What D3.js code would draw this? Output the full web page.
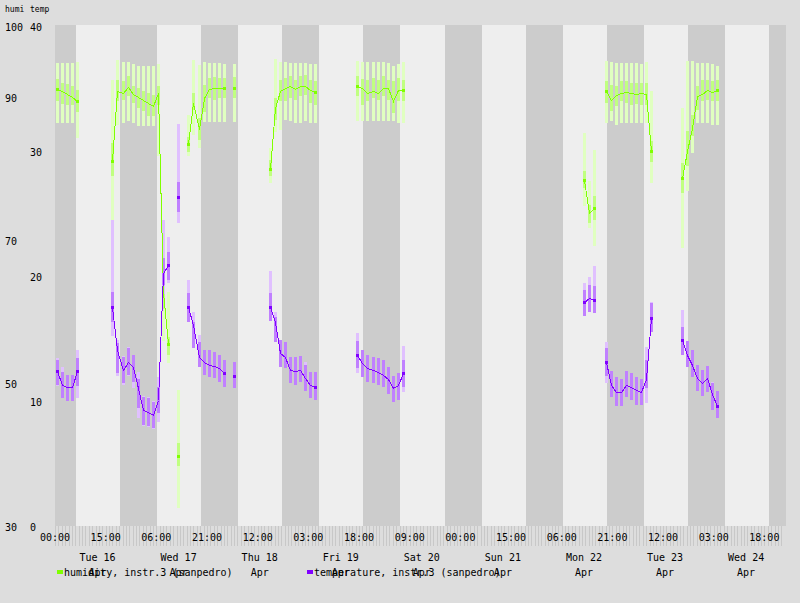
<!DOCTYPE html>
<html>
<head>
<meta charset="utf-8">
<script src="https://cdn.jsdelivr.net/npm/d3@7.9.0/dist/d3.min.js"></script>
<style>
  html, body { margin: 0; padding: 0; background: #dddddd; }
  svg { display: block; font-family: "DejaVu Sans Mono", monospace; }
</style>
</head>
<body>
<svg id="chart" width="800" height="603"></svg>
<script>
// sample times (1.5h bins), shared by both series
const times = [
  '2024-04-16 00:30', '2024-04-16 02:00', '2024-04-16 03:30', '2024-04-16 05:00', '2024-04-16 06:30',
  '2024-04-16 17:00', '2024-04-16 18:30', '2024-04-16 20:00', '2024-04-16 21:30', '2024-04-16 23:00',
  '2024-04-17 00:30', '2024-04-17 02:00', '2024-04-17 03:30', '2024-04-17 05:00', '2024-04-17 06:30',
  '2024-04-17 08:00', '2024-04-17 09:30',
  '2024-04-17 12:30',
  '2024-04-17 15:30', '2024-04-17 17:00', '2024-04-17 18:30', '2024-04-17 20:00', '2024-04-17 21:30',
  '2024-04-17 23:00', '2024-04-18 00:30', '2024-04-18 02:00',
  '2024-04-18 05:00',
  '2024-04-18 15:30', '2024-04-18 17:00', '2024-04-18 18:30', '2024-04-18 20:00', '2024-04-18 21:30',
  '2024-04-18 23:00', '2024-04-19 00:30', '2024-04-19 02:00', '2024-04-19 03:30', '2024-04-19 05:00',
  '2024-04-19 17:30', '2024-04-19 19:00', '2024-04-19 20:30', '2024-04-19 22:00', '2024-04-19 23:30',
  '2024-04-20 01:00', '2024-04-20 02:30', '2024-04-20 04:00', '2024-04-20 05:30', '2024-04-20 07:00',
  '2024-04-22 12:40', '2024-04-22 14:10', '2024-04-22 15:40',
  '2024-04-22 19:00', '2024-04-22 20:30', '2024-04-22 22:00', '2024-04-22 23:30', '2024-04-23 01:00',
  '2024-04-23 02:30', '2024-04-23 04:00', '2024-04-23 05:30', '2024-04-23 07:00', '2024-04-23 08:30',
  '2024-04-23 17:30', '2024-04-23 19:00', '2024-04-23 20:30', '2024-04-23 22:00', '2024-04-23 23:30',
  '2024-04-24 01:00', '2024-04-24 02:30', '2024-04-24 04:00'
];

// humidity: mean, inner band (lo/hi), outer band (min/max)
const humiMean = [
  91.3, 91.0, 90.6, 90.2, 89.6,
  81.3, 91.0, 90.7, 91.6, 90.6, 90.2, 89.8, 89.3, 89.0, 90.7, 62.9, 55.6,
  40.0,
  83.6, 89.3, 85.7, 90.0, 91.3, 91.4, 91.4, 91.5,
  91.4,
  80.1, 88.6, 91.0, 91.4, 91.7, 91.3, 91.7, 91.8, 91.2, 90.9,
  91.7, 91.5, 90.7, 91.0, 90.7, 91.4, 91.4, 89.6, 91.2, 91.2,
  78.6, 73.9, 74.6,
  91.0, 89.8, 90.5, 90.8, 90.9, 90.7, 90.6, 90.7, 90.6, 82.7,
  78.8, 82.6, 85.8, 90.3, 90.6, 91.2, 90.9, 91.2
];
const humiLo = [
  89.6, 89.2, 89.1, 89.1, 88.1,
  79.1, 89.6, 89.8, 90.3, 89.3, 88.6, 88.2, 87.6, 87.5, 89.1, 60.5, 54.1,
  38.5,
  82.5, 88.4, 84.2, 88.1, 90.0, 89.8, 90.0, 90.0,
  90.0,
  79.1, 87.0, 89.6, 89.6, 90.0, 89.8, 90.3, 90.5, 89.3, 89.1,
  90.3, 89.1, 89.6, 90.0, 89.8, 90.3, 89.8, 87.9, 89.6, 89.6,
  77.4, 72.5, 73.0,
  89.3, 88.2, 88.9, 89.6, 89.3, 89.1, 89.2, 89.1, 89.1, 81.1,
  76.7, 80.5, 84.7, 88.4, 89.6, 89.8, 89.6, 89.6
];
const humiHi = [
  92.7, 92.2, 92.0, 91.7, 91.2,
  83.7, 92.6, 92.4, 93.2, 91.7, 91.4, 91.0, 90.7, 90.5, 91.7, 65.5, 56.6,
  41.7,
  84.6, 90.8, 87.2, 91.9, 92.8, 93.0, 92.9, 92.8,
  93.0,
  81.4, 90.0, 92.6, 92.8, 93.1, 92.6, 93.1, 93.3, 92.6, 92.4,
  93.2, 92.7, 92.6, 92.8, 92.6, 93.1, 92.6, 92.4, 92.8, 92.6,
  79.8, 75.1, 76.3,
  92.5, 91.9, 91.8, 92.5, 92.5, 92.1, 92.2, 92.1, 92.1, 84.0,
  80.9, 85.4, 87.7, 91.7, 92.6, 92.6, 92.4, 92.6
];
const humiMin = [
  86.5, 86.5, 86.5, 86.5, 84.5,
  73.0, 86.3, 86.5, 86.8, 86.5, 86.2, 86.2, 86.2, 86.2, 82.0, 56.0, 52.9,
  32.6,
  81.9, 84.9, 83.0, 86.7, 86.7, 86.7, 86.7, 86.7,
  86.7,
  78.1, 85.3, 85.6, 87.0, 86.8, 86.5, 86.5, 86.8, 86.5, 86.5,
  86.8, 86.8, 86.9, 86.9, 86.9, 86.8, 86.8, 86.8, 86.5, 86.6,
  74.9, 71.8, 69.3,
  86.5, 86.8, 86.3, 86.5, 86.5, 86.5, 86.5, 86.5, 86.5, 78.1,
  69.0, 77.0, 82.3, 86.5, 86.5, 86.5, 86.3, 86.3
];
const humiMax = [
  95.0, 95.0, 95.0, 95.0, 95.1,
  92.6, 95.4, 95.1, 95.1, 94.8, 94.6, 94.5, 94.5, 94.5, 94.8, 70.0, 62.9,
  49.2,
  87.7, 95.4, 94.7, 95.1, 94.9, 94.9, 94.9, 94.8,
  94.8,
  83.0, 95.5, 95.1, 95.1, 94.9, 94.9, 94.9, 94.9, 94.8, 94.8,
  95.2, 95.1, 95.1, 95.1, 95.1, 95.1, 94.9, 94.5, 94.8, 95.1,
  85.1, 78.4, 82.8,
  95.2, 95.1, 94.9, 94.9, 94.9, 94.9, 94.9, 94.8, 95.1, 91.0,
  88.6, 95.2, 95.2, 94.9, 94.9, 94.9, 94.8, 94.5
];

// temperature: mean, inner band (lo/hi), outer band (min/max)
const tempMean = [
  12.5, 11.4, 11.2, 11.2, 12.5,
  17.6, 14.2, 12.6, 13.2, 12.8, 11.1, 9.4, 9.2, 9.0, 10.2, 20.3, 21.0,
  26.4,
  17.6, 16.2, 13.6, 13.2, 13.0, 12.9, 12.7, 12.3,
  12.1,
  17.6, 16.4, 13.9, 13.6, 12.6, 12.5, 12.6, 11.9, 11.4, 11.2,
  13.8, 13.1, 12.7, 12.6, 12.4, 12.2, 11.8, 11.1, 11.4, 12.3,
  18.0, 18.3, 18.2,
  13.2, 11.4, 10.8, 10.8, 11.4, 11.2, 11.0, 10.8, 11.8, 16.7,
  15.0, 13.8, 13.0, 11.9, 11.5, 11.9, 10.6, 9.7
];
const tempLo = [
  11.4, 10.3, 10.1, 10.1, 11.3,
  16.4, 12.3, 11.5, 12.2, 11.6, 9.5, 8.2, 8.1, 7.9, 9.1, 19.4, 19.8,
  25.2,
  16.4, 14.3, 12.8, 12.2, 12.0, 11.9, 11.6, 11.2,
  11.1,
  16.5, 14.8, 12.8, 12.7, 11.5, 11.4, 11.6, 10.9, 10.3, 10.2,
  12.7, 12.0, 11.6, 11.5, 11.4, 11.2, 10.6, 10.0, 10.2, 11.2,
  16.9, 17.2, 17.1,
  12.1, 10.4, 9.7, 9.7, 10.4, 10.2, 9.8, 9.8, 11.1, 15.6,
  13.8, 12.8, 12.0, 10.9, 10.5, 10.8, 9.4, 8.7
];
const tempHi = [
  13.4, 12.4, 12.2, 12.2, 13.5,
  18.8, 14.7, 13.6, 14.3, 13.8, 11.8, 10.4, 10.3, 10.0, 11.2, 21.5, 22.0,
  27.6,
  18.7, 16.4, 14.8, 14.2, 14.2, 14.0, 13.8, 13.4,
  13.2,
  18.7, 16.8, 15.0, 14.8, 13.6, 13.6, 13.7, 13.0, 12.4, 12.4,
  14.9, 14.2, 13.8, 13.6, 13.5, 13.4, 12.8, 12.1, 12.3, 13.4,
  19.0, 19.4, 19.3,
  14.3, 12.5, 12.0, 11.8, 12.5, 12.3, 12.0, 11.8, 13.4, 17.9,
  16.0, 14.9, 14.2, 13.0, 12.6, 12.9, 11.5, 10.9
];
const tempMin = [
  11.3, 10.3, 10.1, 10.1, 10.3,
  15.3, 12.1, 11.4, 12.1, 11.1, 8.7, 8.1, 8.0, 7.8, 8.4, 18.6, 19.5,
  24.3,
  16.4, 14.3, 12.8, 12.2, 12.0, 11.9, 11.6, 11.2,
  11.1,
  16.5, 14.8, 12.8, 12.7, 11.5, 11.4, 11.6, 10.9, 10.3, 10.2,
  12.3, 12.0, 11.6, 11.5, 11.4, 11.2, 10.6, 10.0, 10.2, 10.8,
  16.9, 17.2, 17.1,
  11.5, 10.4, 9.7, 9.7, 10.4, 10.2, 9.8, 9.8, 9.9, 15.6,
  13.8, 12.8, 12.0, 10.9, 10.5, 10.8, 9.4, 8.7
];
const tempMax = [
  13.5, 12.8, 12.2, 12.2, 14.2,
  24.6, 15.0, 13.7, 14.4, 13.8, 12.4, 10.5, 10.4, 10.1, 12.0, 24.6, 23.2,
  32.2,
  19.8, 17.2, 15.4, 14.2, 14.2, 14.0, 13.8, 13.4,
  13.2,
  20.5, 17.2, 15.0, 14.8, 13.6, 13.6, 13.7, 13.2, 12.4, 12.4,
  15.5, 14.2, 13.8, 13.6, 13.5, 13.4, 12.8, 12.1, 12.3, 14.5,
  19.5, 20.0, 20.9,
  14.8, 12.5, 12.0, 11.8, 12.5, 12.3, 12.0, 11.8, 14.4, 18.0,
  17.4, 14.9, 14.2, 13.0, 12.6, 12.9, 11.6, 10.9
];

const humiTicks = [100, 90, 70, 50, 30];
const tempTicks = [40, 30, 20, 10, 0];
const timeTicks = [
  '2024-04-16 00:00', '2024-04-16 15:00', '2024-04-17 06:00', '2024-04-17 21:00', '2024-04-18 12:00',
  '2024-04-19 03:00', '2024-04-19 18:00', '2024-04-20 09:00', '2024-04-21 00:00', '2024-04-21 15:00',
  '2024-04-22 06:00', '2024-04-22 21:00', '2024-04-23 12:00', '2024-04-24 03:00', '2024-04-24 18:00'
];
const dayTicks = [
  '2024-04-16 12:00', '2024-04-17 12:00', '2024-04-18 12:00', '2024-04-19 12:00', '2024-04-20 12:00',
  '2024-04-21 12:00', '2024-04-22 12:00', '2024-04-23 12:00', '2024-04-24 12:00'
];
const sunset = '19:19';
const sunrise = '06:16';
const seriesNames = ['humidity, instr.3 (sanpedro)', 'temperature, instr.3 (sanpedro)'];

const parseTime = d3.timeParse('%Y-%m-%d %H:%M');
const start = parseTime('2024-04-16 00:00');
const end = parseTime('2024-04-25 00:24');

const svg = d3.select('#chart');
const x = d3.scaleTime().domain([start, end]).range([55, 786]);
const yHumi = d3.scaleLinear().domain([30, 100]).range([527, 27]);
const yTemp = d3.scaleLinear().domain([0, 40]).range([527, 27]);
const plotTop = 25, plotBottom = 526;

// day / night shading
svg.append('rect')
  .attr('x', x(start)).attr('y', plotTop)
  .attr('width', x(end) - x(start)).attr('height', plotBottom - plotTop)
  .attr('fill', '#eeeeee');

let nights = d3.timeDays(d3.timeDay.offset(start, -1), end).map((day) => {
  let fmt = d3.timeFormat('%Y-%m-%d ');
  let s = parseTime(fmt(day) + sunset);
  let e = parseTime(fmt(d3.timeDay.offset(day, 1)) + sunrise);
  return [s < start ? start : s, e > end ? end : e];
}).filter((n) => n[1] > n[0]);

svg.append('g').selectAll('rect').data(nights).join('rect')
  .attr('x', (d) => Math.round(x(d[0])))
  .attr('width', (d) => Math.round(x(d[1])) - Math.round(x(d[0])))
  .attr('y', plotTop).attr('height', plotBottom - plotTop)
  .attr('fill', '#cccccc')
  .attr('shape-rendering', 'crispEdges');

// hourly tick marks under the plot
svg.append('g').selectAll('line').data(d3.timeHours(start, d3.timeHour.offset(end, -1))).join('line')
  .attr('x1', (d) => Math.round(x(d)) + 0.5).attr('x2', (d) => Math.round(x(d)) + 0.5)
  .attr('y1', plotBottom).attr('y2', 546)
  .attr('stroke', '#c8c8c8').attr('stroke-width', 1);

// split points into runs without gaps
const points = times.map((t, i) => ({ t: parseTime(t), i }));
let segments = [];
points.forEach((p, k) => {
  if (k === 0 || p.t - points[k - 1].t > 2 * 3600 * 1000) segments.push([]);
  segments[segments.length - 1].push(p);
});

const series = [
  { y: yHumi, mean: humiMean, lo: humiLo, hi: humiHi, min: humiMin, max: humiMax,
    line: '#80ff00', dark: '#c0ff80', light: '#e0ffc0' },
  { y: yTemp, mean: tempMean, lo: tempLo, hi: tempHi, min: tempMin, max: tempMax,
    line: '#8000ff', dark: '#c080ff', light: '#e0c0ff' }
];

function drawBars(s) {
  let g = svg.append('g').attr('shape-rendering', 'crispEdges');
  g.selectAll('rect.outer').data(points).join('rect')
    .attr('class', 'outer')
    .attr('x', (d) => Math.round(x(d.t)) - 1).attr('width', 3)
    .attr('y', (d) => Math.round(s.y(s.max[d.i])))
    .attr('height', (d) => Math.round(s.y(s.min[d.i])) - Math.round(s.y(s.max[d.i])))
    .attr('fill', s.light);
  g.selectAll('rect.inner').data(points).join('rect')
    .attr('class', 'inner')
    .attr('x', (d) => Math.round(x(d.t)) - 1).attr('width', 3)
    .attr('y', (d) => Math.round(s.y(s.hi[d.i])))
    .attr('height', (d) => Math.round(s.y(s.lo[d.i])) - Math.round(s.y(s.hi[d.i])))
    .attr('fill', s.dark);
}

function drawLine(s) {
  let line = d3.line().x((d) => Math.round(x(d.t)) + 0.5).y((d) => Math.round(s.y(s.mean[d.i])) + 0.5);
  let g = svg.append('g');
  segments.filter((seg) => seg.length > 1).forEach((seg) => {
    g.append('path')
      .attr('d', line(seg))
      .attr('fill', 'none')
      .attr('stroke', s.line)
      .attr('stroke-width', 1)
      .attr('shape-rendering', 'crispEdges');
  });
  let ends = segments.flatMap((seg) => seg.length > 1 ? [seg[0], seg[seg.length - 1]] : [seg[0]]);
  g.selectAll('rect').data(ends).join('rect')
    .attr('x', (d) => Math.round(x(d.t)) - 1).attr('width', 3)
    .attr('y', (d) => Math.round(s.y(s.mean[d.i])) - 1).attr('height', 3)
    .attr('fill', s.line)
    .attr('shape-rendering', 'crispEdges');
}

series.forEach(drawBars);
series.forEach(drawLine);

// left labels
svg.append('text').attr('x', 5).attr('y', 12).attr('font-size', 8).text('humi');
svg.append('text').attr('x', 30).attr('y', 12).attr('font-size', 8).text('temp');

svg.append('g').selectAll('text').data(humiTicks).join('text')
  .attr('x', 5).attr('y', (d) => yHumi(d) + 3.5)
  .attr('font-size', 10).text((d) => d);
svg.append('g').selectAll('text').data(tempTicks).join('text')
  .attr('x', 30).attr('y', (d) => yTemp(d) + 3.5)
  .attr('font-size', 10).text((d) => d);

// time labels
const fmtHM = d3.timeFormat('%H:%M');
svg.append('g').selectAll('text').data(timeTicks.map(parseTime)).join('text')
  .attr('x', (d) => x(d)).attr('y', 541)
  .attr('text-anchor', 'middle').attr('font-size', 10)
  .text((d) => fmtHM(d));

// day labels
const fmtDay = d3.timeFormat('%a %d');
const fmtMon = d3.timeFormat('%b');
let days = svg.append('g').selectAll('g').data(dayTicks.map(parseTime)).join('g');
days.append('text')
  .attr('x', (d) => x(d) + 2).attr('y', 561)
  .attr('text-anchor', 'middle').attr('font-size', 10)
  .text((d) => fmtDay(d));

// legend
let legendX = [57, 307];
series.forEach((s, idx) => {
  svg.append('rect')
    .attr('x', legendX[idx]).attr('y', 570).attr('width', 6).attr('height', 4)
    .attr('fill', s.line);
  svg.append('text')
    .attr('x', legendX[idx] + 7).attr('y', 576)
    .attr('font-size', 10)
    .text(seriesNames[idx]);
});

days.append('text')
  .attr('x', (d) => x(d) + 2).attr('y', 576)
  .attr('text-anchor', 'middle').attr('font-size', 10)
  .text((d) => fmtMon(d));
</script>
</body>
</html>
